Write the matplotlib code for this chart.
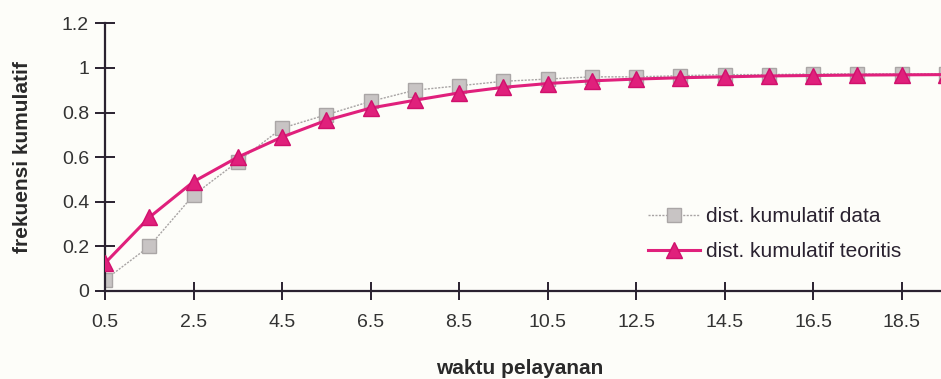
import numpy as np
import matplotlib as mpl
import matplotlib.pyplot as plt
import matplotlib.ticker as ticker

# waktu pelayanan (class midpoints)
waktu = [0.5, 1.5, 2.5, 3.5, 4.5, 5.5, 6.5, 7.5, 8.5, 9.5,
         10.5, 11.5, 12.5, 13.5, 14.5, 15.5, 16.5, 17.5, 18.5, 19.5]

kum_data = [0.05, 0.20, 0.43, 0.58, 0.73, 0.79, 0.85, 0.90, 0.92, 0.94,
            0.95, 0.96, 0.96, 0.965, 0.97, 0.97, 0.973, 0.973, 0.973, 0.973]

kum_teoritis = [0.125, 0.33, 0.49, 0.60, 0.69, 0.765, 0.82, 0.855, 0.888, 0.913,
                0.93, 0.942, 0.95, 0.956, 0.96, 0.964, 0.966, 0.968, 0.969, 0.97]

x_ticks = [0.5, 2.5, 4.5, 6.5, 8.5, 10.5, 12.5, 14.5, 16.5, 18.5]
y_ticks = [0, 0.2, 0.4, 0.6, 0.8, 1, 1.2]
y_ticklabels = ["0", "0.2", "0.4", "0.6", "0.8", "1", "1.2"]


def parameter():
    mpl.rcParams.update(
        {
            "font.family": "sans-serif",
            "font.sans-serif": ["Liberation Sans", "DejaVu Sans"],
        }
    )


parameter()

fig = plt.figure(figsize=(9.41, 3.79), dpi=100)
fig.patch.set_facecolor("#fdfdf9")

# axes runs past the right edge of the figure
ax = fig.add_axes([0.1116, 0.2322, 0.9405, 0.7063])
ax.set_facecolor("none")

ax.plot(waktu, kum_data, linestyle=(0, (1.5, 1)), linewidth=1.0, color="#a8a4a4",
        marker="s", markersize=10, markerfacecolor="#c8c4c4",
        markeredgecolor="#aaa6a6", markeredgewidth=1.0,
        label="dist. kumulatif data", zorder=2)
ax.plot(waktu, kum_teoritis, linestyle="-", linewidth=2.2, color="#e0207c",
        marker="^", markersize=11, markerfacecolor="#e0207c",
        markeredgecolor="#d0106c",
        label="dist. kumulatif teoritis", zorder=3)

ax.set_xlim(0.5, 20.5)
ax.set_ylim(0, 1.2)
ax.xaxis.set_major_locator(ticker.FixedLocator(x_ticks))
ax.set_yticks(y_ticks)
ax.set_yticklabels(y_ticklabels)

for side in ("top", "right"):
    ax.spines[side].set_visible(False)
for side in ("left", "bottom"):
    ax.spines[side].set_color("#2a2230")
    ax.spines[side].set_linewidth(1.6)

ax.tick_params(axis="x", direction="inout", length=13, width=1.4,
               color="#2a2230", labelsize=14, labelcolor="#333333", pad=10)
ax.tick_params(axis="y", direction="inout", length=15, width=1.4,
               color="#2a2230", labelsize=14, labelcolor="#333333", pad=4)

fig.text(0.5525, 0.028, "waktu pelayanan", ha="center", va="center",
         fontsize=15, fontweight="bold", color="#2a2a2a")
fig.text(0.024, 0.585, "frekuensi kumulatif", ha="center", va="center",
         rotation=90, fontsize=15, fontweight="bold", color="#2a2a2a")

handles, labels = ax.get_legend_handles_labels()
leg = fig.legend(handles, labels, loc="center left",
                 bbox_to_anchor=(648 / 941, 1 - 234 / 379), frameon=False,
                 fontsize=15, handlelength=2.5, handletextpad=0.3,
                 labelspacing=0.75, borderpad=0, borderaxespad=0)
for t in leg.get_texts():
    t.set_color("#2a2230")

plt.grid(False)
fig.savefig("out.png", dpi=100, facecolor=fig.get_facecolor())
